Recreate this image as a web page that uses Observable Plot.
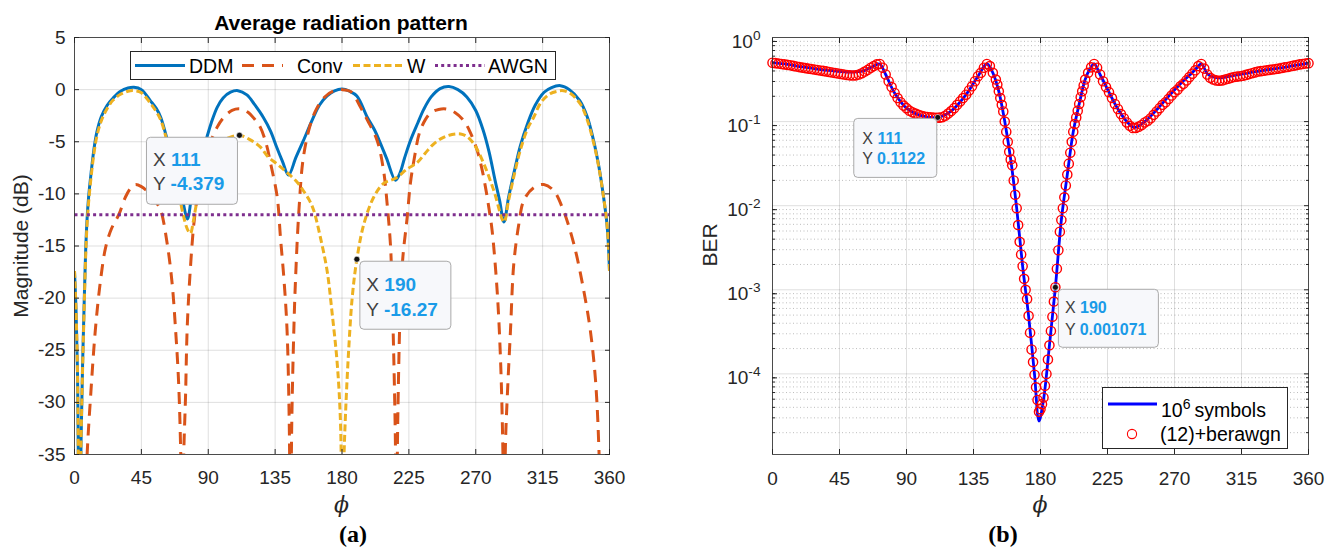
<!DOCTYPE html>
<html><head><meta charset="utf-8">
<script src="https://cdn.jsdelivr.net/npm/d3@7"></script>
<script src="https://cdn.jsdelivr.net/npm/@observablehq/plot@0.6"></script>
<style>
html,body{margin:0;padding:0;background:#fff}
body{width:1335px;height:553px;position:relative;overflow:hidden;font-family:"Liberation Sans",Arial,Helvetica,sans-serif;color:#262626}
#a,#b,#ov{position:absolute;top:0}
#a{left:0}#b{left:680px}#ov{left:0;pointer-events:none}
</style></head><body>
<div id="a"></div><div id="b"></div>
<svg id="ov" width="1335" height="553"></svg>
<script>
// ---------- data: panel (a) average radiation pattern [phi (deg), magnitude (dB)] ----------
const ddm = [[0,-17.4],[1,-21],[2,-27],[3.3,-45],[4.5,-33],[5.5,-26],[6.5,-20.5],[7.5,-15.5],[8.5,-12.3],[9.5,-10.3],[11,-8.2],[13,-5.8],[15,-4.1],[18,-2.6],[22,-1.5],[26,-0.8],[31,-0.15],[36,0.15],[40,0.22],[45,0.0],[51,-1.05],[55,-1.8],[58,-2.65],[62,-4.6],[66,-6.8],[70,-9.0],[73,-10.8],[76,-12.4],[79,-10],[82,-8],[86,-6],[89,-4.6],[92,-3.2],[96,-1.7],[100,-0.8],[105,-0.25],[110,-0.1],[116,-0.5],[121,-1.4],[127,-2.65],[132,-4.0],[136,-5.5],[140,-6.9],[144,-8.2],[149,-6.5],[154,-4.9],[160,-2.9],[165,-1.45],[170,-0.6],[175,-0.12],[180,0.05],[185,-0.15],[190,-0.6],[197,-2.65],[202,-3.9],[206,-5.2],[210,-6.6],[216,-8.7],[219,-8.0],[222,-6.6],[226,-4.9],[231,-3.2],[235,-1.9],[240,-0.7],[246,0.1],[252,0.3],[258,0.0],[264,-0.7],[270,-2.0],[275,-3.9],[279,-6.0],[283,-8.7],[286,-10.6],[289,-12.7],[292,-10.4],[296,-7.8],[300,-5.4],[305,-3.2],[310,-1.5],[316,-0.25],[321,0.2],[327,0.38],[333,0.0],[340,-1.05],[345,-2.6],[349,-4.7],[353,-7.5],[356,-10.3],[358,-12.5],[359,-14.2],[360,-17.4]];
const conv = [[0,-60],[5,-50],[7,-42],[8.5,-35],[10.8,-29.5],[14,-23.1],[17.5,-18.3],[21,-15.1],[25,-13.3],[29.8,-12.0],[34.3,-10.3],[38,-9.4],[41,-9.1],[45,-9.3],[50,-9.9],[54,-10.6],[58,-11.6],[62.4,-14.8],[65.7,-18.6],[68,-23],[70,-27.9],[71.5,-35],[72.5,-45],[73.5,-35],[74.7,-29.5],[75.8,-23],[77.6,-18],[80.3,-12.9],[83,-10],[86,-7.8],[90,-5.6],[96,-3.6],[100.5,-2.65],[106,-2.0],[111.5,-1.85],[117,-2.2],[121,-2.8],[125,-3.6],[129,-5.2],[132,-7.1],[136.4,-10.3],[138.6,-14.2],[141,-18.3],[143,-23],[144.5,-32],[145.3,-45],[146.2,-32],[147.6,-23],[148.7,-18.3],[151,-11.6],[154,-6.5],[158.8,-3.3],[163,-1.8],[168,-0.75],[174,-0.15],[180,0],[186,-0.2],[192.5,-1.7],[197,-2.9],[203.7,-4.9],[208,-7.8],[210.4,-11],[212.7,-15.1],[213.8,-20],[214.9,-26],[216,-34.5],[216.6,-45],[217.5,-32],[219.4,-20],[221,-16],[223.9,-12.2],[226,-9],[229,-6.3],[232,-4.2],[236,-2.9],[240,-2.2],[245,-1.9],[250,-1.85],[256,-2.2],[262,-3.0],[266,-4],[271,-5.85],[274,-7.5],[276.6,-9.4],[279,-11.5],[281,-13.5],[284.4,-19.3],[286.7,-26],[288.3,-35],[289,-45],[290,-34],[291.2,-29.5],[293.4,-23],[295.6,-16.7],[299,-12.9],[302.4,-10.6],[309,-9.4],[315.8,-9.1],[322.5,-9.7],[329,-11.6],[336,-14.8],[342.7,-19.3],[347,-23],[350.6,-27.9],[353,-35],[354.5,-45],[360,-60]];
const wpat = [[0,-17.4],[1,-21],[2,-27],[3.3,-45],[4.5,-33],[5.5,-26.5],[6.5,-21],[7.5,-16],[8.5,-12.8],[9.5,-10.8],[11,-8.6],[13,-6.2],[15,-4.5],[18,-3.0],[22,-1.8],[26,-1.0],[31,-0.45],[36,-0.15],[40,-0.1],[45,-0.3],[51,-1.3],[55,-2.1],[58,-2.9],[62,-4.8],[66,-7.2],[70,-9.8],[73,-11.9],[76,-13.4],[78,-13.8],[80,-12.6],[82,-11.0],[85,-9.3],[89,-6.9],[93,-5.9],[98,-5.1],[104,-4.6],[111,-4.38],[118,-4.8],[125,-5.5],[130,-6.4],[136,-7.1],[141,-7.7],[145,-8.2],[150,-8.9],[154,-9.7],[158,-10.6],[161,-11.6],[165.5,-14.2],[170,-17.4],[173.4,-21.5],[176.8,-26.3],[179,-32],[180.2,-45],[181.2,-36],[182.4,-31],[184.6,-24.7],[186.9,-19.9],[190,-16.27],[194.7,-12.9],[201.4,-10.3],[208,-9.0],[216,-8.5],[224,-7.6],[230.6,-7.0],[236,-6.1],[241.8,-5.2],[248,-4.6],[254,-4.3],[259.8,-4.25],[264,-4.5],[268.7,-5.2],[275.4,-7.1],[282.2,-9.7],[289,-12.7],[292,-10.7],[296,-8.1],[300,-5.8],[305,-3.7],[309,-2.65],[314,-1.2],[320,-0.4],[325,-0.15],[329,-0.1],[334,-0.4],[340.5,-1.4],[345,-2.9],[349.5,-5.2],[353,-7.6],[356,-10.3],[358,-12.5],[359,-14.2],[360,-17.4]];
const awgn = [[0,-12],[360,-12]];
const tipsA = [{phi:111, v:-4.379}, {phi:190, v:-16.27}];

const symbols = [[0,-0.30],[10,-0.32],[20,-0.35],[30,-0.375],[40,-0.395],[50,-0.41],[56,-0.41],[62,-0.39],[68,-0.34],[72,-0.315],[76,-0.44],[82,-0.66],[90,-0.84],[100,-0.93],[111,-0.95],[120,-0.875],[130,-0.68],[138,-0.46],[144,-0.315],[148,-0.42],[152,-0.64],[156,-1.0],[160,-1.45],[164,-2.03],[168,-2.72],[172,-3.31],[176,-4.01],[179,-4.56],[182,-4.31],[186,-3.66],[190,-2.97],[194,-2.17],[198,-1.63],[202,-1.12],[206,-0.79],[210,-0.5],[213,-0.38],[216,-0.315],[220,-0.44],[226,-0.65],[232,-0.85],[238,-1.0],[243,-1.07],[250,-1.0],[258,-0.86],[266,-0.7],[274,-0.55],[280,-0.45],[284,-0.38],[288,-0.315],[292,-0.43],[296,-0.47],[300,-0.48],[310,-0.45],[320,-0.42],[330,-0.39],[340,-0.365],[350,-0.335],[360,-0.305]];
const berawgn = [[0,-0.30],[2,-0.305],[4,-0.31],[6,-0.315],[8,-0.32],[10,-0.325],[12,-0.33],[14,-0.338],[16,-0.345],[18,-0.352],[20,-0.358],[22,-0.364],[24,-0.37],[26,-0.375],[28,-0.38],[30,-0.386],[32,-0.392],[34,-0.397],[36,-0.403],[38,-0.41],[40,-0.416],[42,-0.422],[44,-0.428],[46,-0.434],[48,-0.44],[50,-0.446],[52,-0.45],[54,-0.452],[56,-0.45],[58,-0.44],[60,-0.425],[62,-0.405],[64,-0.385],[66,-0.36],[68,-0.34],[70,-0.32],[72,-0.315],[74,-0.36],[76,-0.44],[78,-0.52],[80,-0.59],[82,-0.66],[84,-0.72],[86,-0.77],[88,-0.81],[90,-0.84],[92,-0.87],[94,-0.89],[96,-0.905],[98,-0.92],[100,-0.93],[102,-0.94],[104,-0.945],[106,-0.95],[108,-0.953],[110,-0.955],[112,-0.953],[114,-0.948],[116,-0.93],[118,-0.905],[120,-0.875],[122,-0.84],[124,-0.8],[126,-0.76],[128,-0.72],[130,-0.68],[132,-0.63],[134,-0.58],[136,-0.52],[138,-0.46],[140,-0.42],[142,-0.36],[144,-0.315],[146,-0.34],[148,-0.42],[150,-0.5],[151,-0.56],[152,-0.64],[153,-0.72],[154,-0.8],[155,-0.88],[156,-1.0],[157,-1.12],[158,-1.24],[159,-1.36],[160,-1.45],[161,-1.52],[162,-1.7],[163,-1.87],[164,-2.03],[165,-2.23],[166,-2.43],[167,-2.58],[168,-2.72],[169,-2.87],[170,-3.0],[171,-3.11],[172,-3.31],[173,-3.51],[174,-3.71],[175,-3.86],[176,-4.01],[177,-4.16],[178,-4.31],[179,-4.45],[180,-4.42],[181,-4.36],[182,-4.28],[183,-4.14],[184,-4.0],[185,-3.83],[186,-3.66],[187,-3.49],[188,-3.32],[189,-3.14],[190,-2.97],[191,-2.75],[192,-2.53],[193,-2.31],[194,-2.17],[195,-2.03],[196,-1.9],[197,-1.76],[198,-1.63],[199,-1.5],[200,-1.37],[201,-1.24],[202,-1.12],[203,-1.03],[204,-0.95],[205,-0.87],[206,-0.79],[207,-0.71],[208,-0.64],[209,-0.57],[210,-0.5],[212,-0.42],[214,-0.355],[216,-0.315],[218,-0.36],[220,-0.44],[222,-0.52],[224,-0.59],[226,-0.65],[228,-0.72],[230,-0.79],[232,-0.85],[234,-0.91],[236,-0.96],[238,-1.01],[240,-1.05],[242,-1.075],[244,-1.075],[246,-1.06],[248,-1.04],[250,-1.01],[252,-0.99],[254,-0.96],[256,-0.92],[258,-0.88],[260,-0.84],[262,-0.8],[264,-0.77],[266,-0.73],[268,-0.69],[270,-0.65],[272,-0.62],[274,-0.58],[276,-0.55],[278,-0.51],[280,-0.47],[282,-0.43],[284,-0.39],[286,-0.34],[288,-0.315],[290,-0.37],[292,-0.44],[294,-0.48],[296,-0.5],[298,-0.51],[300,-0.515],[302,-0.51],[304,-0.5],[306,-0.49],[308,-0.48],[310,-0.47],[312,-0.465],[314,-0.46],[316,-0.455],[318,-0.445],[320,-0.435],[322,-0.425],[324,-0.415],[326,-0.405],[328,-0.4],[330,-0.395],[332,-0.39],[334,-0.385],[336,-0.38],[338,-0.375],[340,-0.37],[342,-0.362],[344,-0.355],[346,-0.35],[348,-0.342],[350,-0.335],[352,-0.328],[354,-0.32],[356,-0.315],[358,-0.31],[360,-0.305]];
const tipsB = [{phi:111, ber:0.1122}, {phi:190, ber:0.001071}];

// ---------- ticks / labels ----------
const phiTicks = [0,45,90,135,180,225,270,315,360];
const dbTicks = [5,0,-5,-10,-15,-20,-25,-30,-35];
const berTicks = [1,0.1,0.01,0.001,0.0001];
const seriesA = ["DDM","Conv","W","AWGN"];
const seriesB = ["symbols","(12)+berawgn"];
const titleA = "Average radiation pattern";

const FONT = '"Liberation Sans", Arial, Helvetica, sans-serif';
const COL = {ddm:"#0072BD", conv:"#D95319", w:"#EDB120", awgn:"#7E2F8E", sym:"#0000FF", ber:"#FF0000"};
const DASH = {conv:"12,8", w:"7,3.5", awgn:"3,3.2"};
const AX = "#262626";

const P = d => d[0], V = d => d[1], E = d => Math.pow(10, d[1]);
const lineStyle = {strokeWidth: 3, strokeLinecap: "butt", strokeLinejoin: "round", clip: true};

const plotA = Plot.plot({
  width: 650, height: 500, marginLeft: 74, marginRight: 41, marginTop: 37, marginBottom: 46,
  x: {domain: [0, 360]}, y: {domain: [-35, 5]},
  style: {fontFamily: FONT, fontSize: "19px", color: AX, background: "transparent", overflow: "visible"},
  marks: [
    Plot.gridX(phiTicks, {stroke: AX, strokeOpacity: 0.15}),
    Plot.gridY(dbTicks, {stroke: AX, strokeOpacity: 0.15}),
    Plot.line(ddm, {x: P, y: V, stroke: COL.ddm, curve: "catmull-rom", ...lineStyle}),
    Plot.line(conv, {x: P, y: V, stroke: COL.conv, strokeDasharray: DASH.conv, curve: "catmull-rom", ...lineStyle}),
    Plot.line(wpat, {x: P, y: V, stroke: COL.w, strokeDasharray: DASH.w, curve: "catmull-rom", ...lineStyle}),
    Plot.line(awgn, {x: P, y: V, stroke: COL.awgn, strokeDasharray: DASH.awgn, ...lineStyle}),
    Plot.frame({stroke: AX, strokeOpacity: 0.8}),
    Plot.axisX(phiTicks, {anchor: "bottom", tickSize: -5, tickPadding: 21, tickFormat: d => String(d), label: null}),
    Plot.axisX(phiTicks, {anchor: "top", tickSize: -5, tickFormat: () => "", label: null}),
    Plot.axisY(dbTicks, {anchor: "left", tickSize: -5, tickPadding: 14, tickFormat: d => String(d), label: null}),
    Plot.axisY(dbTicks, {anchor: "right", tickSize: -5, tickFormat: () => "", label: null}),
    Plot.dot(tipsA, {x: "phi", y: "v", r: 3, fill: "#111", stroke: "#fff", strokeWidth: 0.6})
  ]
});
document.getElementById("a").appendChild(plotA);

const minorB = [];
for (let k = -5; k <= -1; k++) for (let m = 2; m <= 9; m++) { const v = m * Math.pow(10, k); if (v >= 1.1e-5) minorB.push(v); }

const plotB = Plot.plot({
  width: 655, height: 500, marginLeft: 92, marginRight: 27, marginTop: 37, marginBottom: 46,
  x: {domain: [0, 360]}, y: {type: "log", domain: [1.1e-5, 1]},
  style: {fontFamily: FONT, fontSize: "19px", color: AX, background: "transparent", overflow: "visible"},
  marks: [
    Plot.gridX(phiTicks, {stroke: AX, strokeOpacity: 0.15}),
    Plot.gridY(minorB, {stroke: AX, strokeOpacity: 0.3, strokeDasharray: "1,2.5"}),
    Plot.gridY(berTicks, {stroke: AX, strokeOpacity: 0.15}),
    Plot.line(symbols, {x: P, y: E, stroke: COL.sym, strokeWidth: 2.8, curve: "catmull-rom", clip: true}),
    Plot.dot(berawgn, {x: P, y: E, r: 4.6, stroke: COL.ber, strokeWidth: 1.4, fill: "none"}),
    Plot.frame({stroke: AX, strokeOpacity: 0.8}),
    Plot.axisX(phiTicks, {anchor: "bottom", tickSize: -5, tickPadding: 22, tickFormat: d => String(d), label: null}),
    Plot.axisX(phiTicks, {anchor: "top", tickSize: -5, tickFormat: () => "", label: null}),
    Plot.axisY(berTicks, {anchor: "left", tickSize: -5, tickPadding: 17, dy: 4, tickFormat: d => String(Math.round(Math.log10(d))), label: null}),
    Plot.axisY(minorB, {anchor: "left", tickSize: -3, tickFormat: () => "", label: null}),
    Plot.axisY(berTicks, {anchor: "right", tickSize: -5, tickFormat: () => "", label: null}),
    Plot.axisY(minorB, {anchor: "right", tickSize: -3, tickFormat: () => "", label: null}),
    Plot.dot(tipsB, {x: "phi", y: "ber", r: 3, fill: "#111", stroke: "#fff", strokeWidth: 0.6})
  ]
});
document.getElementById("b").appendChild(plotB);

// superscript exponents on the log axis labels
plotB.querySelectorAll('g[aria-label="y-axis tick label"] text').forEach(t => {
  const e = t.textContent;
  if (!e) return;
  t.textContent = "10";
  const s = document.createElementNS("http://www.w3.org/2000/svg", "tspan");
  s.setAttribute("dy", "-0.55em");
  s.setAttribute("font-size", "0.72em");
  s.textContent = e;
  t.appendChild(s);
});

// ---------- overlay: title, labels, legends, data tips, captions ----------
const ov = d3.select("#ov").style("font-family", FONT);
const BX = 680; // left offset of panel (b)

ov.append("text").attr("x", 341).attr("y", 30).attr("text-anchor", "middle")
  .attr("font-size", 21).attr("font-weight", "bold").attr("fill", "#000").text(titleA);
ov.append("text").attr("transform", "translate(28,246) rotate(-90)").attr("text-anchor", "middle")
  .attr("font-size", 21).attr("fill", AX).text("Magnitude (dB)");
ov.append("text").attr("transform", `translate(${BX + 37},245) rotate(-90)`).attr("text-anchor", "middle")
  .attr("font-size", 21).attr("fill", AX).text("BER");
[[plotA, 0], [plotB, BX]].forEach(([p, ox]) => {
  const xm = ox + (p.scale("x").apply(0) + p.scale("x").apply(360)) / 2;
  ov.append("text").attr("x", xm).attr("y", 512).attr("text-anchor", "middle")
    .attr("font-size", 22).attr("font-style", "italic").attr("font-family", '"DejaVu Serif", "Liberation Serif", serif')
    .attr("fill", AX).text("\u03D5");
});
ov.append("text").attr("x", 353).attr("y", 542).attr("text-anchor", "middle")
  .attr("font-size", 24).attr("font-weight", "bold").attr("font-family", '"Liberation Serif", "Times New Roman", serif')
  .attr("fill", "#000").text("(a)");
ov.append("text").attr("x", 1003).attr("y", 542).attr("text-anchor", "middle")
  .attr("font-size", 24).attr("font-weight", "bold").attr("font-family", '"Liberation Serif", "Times New Roman", serif')
  .attr("fill", "#000").text("(b)");

// legend (a)
const lg = ov.append("g");
lg.append("rect").attr("x", 130.5).attr("y", 51.5).attr("width", 425).attr("height", 28).attr("fill", "#fff").attr("stroke", AX).attr("stroke-width", 1);
const legA = [
  {x1: 135, x2: 185, tx: 189, c: COL.ddm, d: null},
  {x1: 242, x2: 283, tx: 297, c: COL.conv, d: DASH.conv},
  {x1: 353, x2: 402, tx: 407, c: COL.w, d: DASH.w},
  {x1: 435, x2: 485, tx: 488, c: COL.awgn, d: DASH.awgn}
];
legA.forEach((l, i) => {
  lg.append("line").attr("x1", l.x1).attr("x2", l.x2).attr("y1", 65.5).attr("y2", 65.5)
    .attr("stroke", l.c).attr("stroke-width", 3).attr("stroke-dasharray", l.d);
  lg.append("text").attr("x", l.tx).attr("y", 72.5).attr("font-size", 19.5).attr("fill", "#000").text(seriesA[i]);
});

// legend (b)
const lb = ov.append("g");
lb.append("rect").attr("x", 1102.5).attr("y", 387.5).attr("width", 185).attr("height", 61).attr("fill", "#fff").attr("stroke", AX).attr("stroke-width", 1);
lb.append("line").attr("x1", 1108).attr("x2", 1157).attr("y1", 404).attr("y2", 404).attr("stroke", COL.sym).attr("stroke-width", 3);
const t1 = lb.append("text").attr("x", 1161).attr("y", 417).attr("font-size", 19.5).attr("fill", "#000");
t1.append("tspan").text("10");
t1.append("tspan").attr("dy", "-0.55em").attr("font-size", "0.72em").text("6");
t1.append("tspan").attr("dy", "0.4em").text("\u2009" + seriesB[0]);
lb.append("circle").attr("cx", 1132).attr("cy", 434).attr("r", 4.6).attr("fill", "none").attr("stroke", COL.ber).attr("stroke-width", 1.1);
lb.append("text").attr("x", 1160).attr("y", 441).attr("font-size", 19.5).attr("fill", "#000").text(seriesB[1]);

// data tips
function tip(px, py, box, lines, fs, tx) {
  const g = ov.append("g");
  g.append("rect").attr("x", box.x + 0.5).attr("y", box.y + 0.5).attr("width", box.w).attr("height", box.h)
    .attr("rx", 4).attr("fill", "#f7f8fb").attr("stroke", "#a9a9a9").attr("stroke-width", 1);
  lines.forEach(([k, v, dy]) => {
    const t = g.append("text").attr("x", box.x + tx).attr("y", box.y + dy).attr("font-size", fs);
    t.append("tspan").attr("fill", "#404040").text(k + " ");
    t.append("tspan").attr("fill", "#1a9be8").attr("font-weight", "bold").text(v);
  });
}
{
  const sx = plotA.scale("x"), sy = plotA.scale("y");
  const p1 = [sx.apply(tipsA[0].phi), sy.apply(tipsA[0].v)];
  tip(p1[0], p1[1], {x: p1[0] - 93, y: p1[1] + 2, w: 91, h: 67}, [["X", "111", 29], ["Y", "-4.379", 53]], 19, 7);
  const p2 = [sx.apply(tipsA[1].phi), sy.apply(tipsA[1].v)];
  tip(p2[0], p2[1], {x: p2[0] + 3, y: p2[1] + 2, w: 91, h: 68}, [["X", "190", 30], ["Y", "-16.27", 55]], 19, 7);
}
{
  const sx = plotB.scale("x"), sy = plotB.scale("y");
  const p1 = [BX + sx.apply(tipsB[0].phi), sy.apply(tipsB[0].ber)];
  tip(p1[0], p1[1], {x: p1[0] - 84, y: p1[1] + 1, w: 83, h: 59}, [["X", "111", 26], ["Y", "0.1122", 46]], 16, 9);
  const p2 = [BX + sx.apply(tipsB[1].phi), sy.apply(tipsB[1].ber)];
  tip(p2[0], p2[1], {x: p2[0] + 3, y: p2[1] + 2, w: 100, h: 58}, [["X", "190", 24], ["Y", "0.001071", 46]], 16, 7);
}
</script>
</body></html>
